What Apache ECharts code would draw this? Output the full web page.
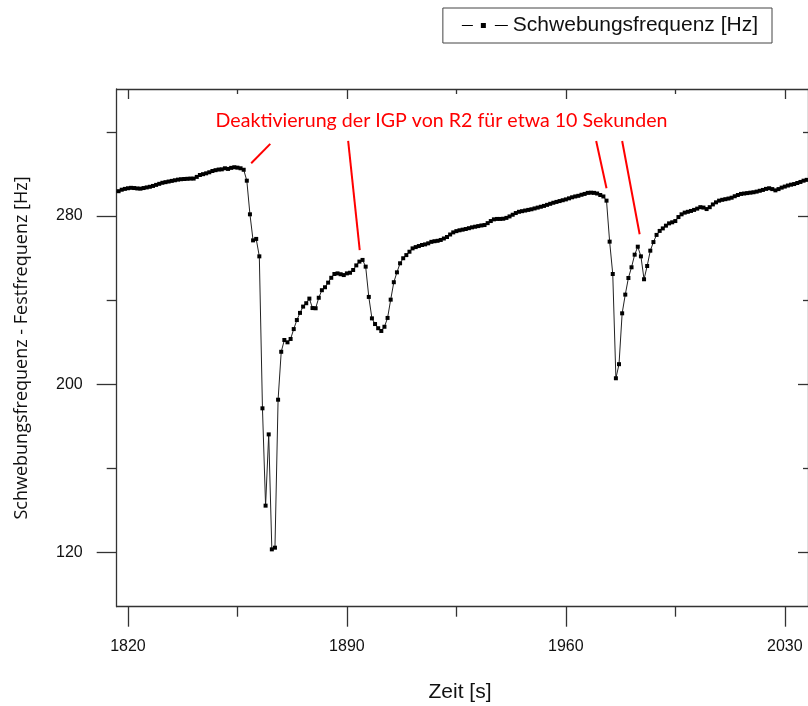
<!DOCTYPE html>
<html>
<head>
<meta charset="utf-8">
<script src="https://cdn.jsdelivr.net/npm/echarts@6/dist/echarts.min.js"></script>
<style>
html,body{margin:0;padding:0;background:#fff;}
#chart{width:808px;height:706px;}
</style>
</head>
<body>
<div id="chart"></div>
<script>
// ---- data (1 sample per second) ----
const startZeit = 1816;
const frequenz = [
 291.4,291.8,292.5,292.9,293.2,293.4,293.3,293.1,293.0,293.3,
 293.6,293.9,294.3,294.8,295.3,295.8,296.1,296.4,296.7,297.0,
 297.3,297.5,297.6,297.7,297.8,297.8,298.6,299.5,299.9,300.3,
 300.8,301.4,301.8,302.1,302.2,302.7,302.4,302.9,303.2,303.0,
 302.7,302.0,296.8,280.8,268.4,269.1,260.8,188.5,142.2,176.1,
 121.4,122.2,192.6,215.4,221.0,219.9,221.5,226.2,230.5,233.9,
 236.9,238.5,240.7,236.2,236.1,241.1,244.7,246.1,248.3,250.6,
 252.4,252.7,252.3,251.9,252.7,253.0,254.3,256.5,258.3,259.1,
 255.9,241.5,231.3,228.6,226.6,225.3,227.3,231.5,240.2,248.5,
 253.2,257.5,259.9,261.4,263.0,264.6,265.2,265.7,266.2,266.5,
 267.0,267.7,268.0,268.2,268.6,269.3,270.0,271.2,272.2,272.8,
 273.2,273.5,273.8,274.2,274.6,274.9,275.2,275.5,275.7,276.6,
 277.6,278.4,278.6,278.6,278.7,279.1,279.8,280.6,281.4,282.0,
 282.3,282.6,282.9,283.2,283.6,284.0,284.4,284.8,285.3,285.8,
 286.3,286.7,287.1,287.5,287.9,288.4,288.9,289.3,289.6,290.1,
 290.5,291.0,291.1,291.0,290.7,290.0,289.3,287.3,267.8,252.4,
 202.8,209.5,233.7,242.6,250.5,255.6,261.6,265.4,260.8,249.9,
 256.2,263.5,267.6,271.0,272.9,274.1,275.4,276.5,277.0,277.6,
 279.5,280.8,281.6,282.0,282.4,282.9,283.5,284.2,284.0,283.3,
 284.2,285.5,286.5,287.3,287.7,288.0,288.3,288.7,289.4,290.0,
 290.5,290.7,290.9,291.1,291.3,291.6,292.0,292.4,292.9,293.2,
 292.8,292.2,292.8,293.5,294.0,294.5,294.9,295.2,295.7,296.2,
 296.8,297.2,297.6
];
const zeit = frequenz.map((_, i) => startZeit + i);

const xMajor = [1820, 1890, 1960, 2030];
const xMinor = [1855, 1925, 1995];
const yMajor = [120, 200, 280];
const yMinor = [160, 240, 320];

const seriesName = 'Schwebungsfrequenz [Hz]';
const xTitle = 'Zeit [s]';
const yTitle = 'Schwebungsfrequenz - Festfrequenz [Hz]';
const annotationText = 'Deaktivierung der IGP von R2 für etwa 10 Sekunden';
// annotation pointer lines in data coordinates [x1, y1, x2, y2]
const hinweisLinien = [
  [1859.4, 305.1, 1865.5, 314.3],
  [1894.1, 263.8, 1890.4, 315.7],
  [1973.0, 293.2, 1969.7, 315.7],
  [1983.6, 271.3, 1978.0, 315.7]
];

// ---- chart ----
const X_MIN = 1816.4, X_MAX = 2037.42;
const Y_MIN = 94.12, Y_MAX = 340.42;
const AX = '#333';
const plain = v => String(v);

function xAx(pos, vals, len, inside, withLine, withLabel) {
  return {
    type: 'value', position: pos, min: X_MIN, max: X_MAX,
    axisLine: { show: withLine, onZero: false, lineStyle: { color: AX, width: 1.3 } },
    axisTick: { show: true, inside: inside, length: len, customValues: vals, lineStyle: { color: AX, width: 1.3 } },
    axisLabel: withLabel ? { show: true, customValues: vals, formatter: plain, margin: 32, color: '#111', fontSize: 16, fontFamily: 'Liberation Sans' } : { show: false },
    splitLine: { show: false }
  };
}
function yAx(pos, vals, len, inside, withLine, withLabel) {
  return {
    type: 'value', position: pos, min: Y_MIN, max: Y_MAX,
    axisLine: { show: withLine, onZero: false, lineStyle: { color: AX, width: 1.3 } },
    axisTick: { show: true, inside: inside, length: len, customValues: vals, lineStyle: { color: AX, width: 1.3 } },
    axisLabel: withLabel ? { show: true, customValues: vals, formatter: plain, margin: 34, color: '#111', fontSize: 16, fontFamily: 'Liberation Sans' } : { show: false },
    splitLine: { show: false }
  };
}

const chart = echarts.init(document.getElementById('chart'), null, { renderer: 'canvas' });
chart.setOption({
  animation: false,
  backgroundColor: '#fff',
  grid: { left: 116.7, top: 89, width: 694.3, height: 517.7 },
  legend: {
    right: 36, top: 8,
    padding: [7, 14, 7, 19],
    borderColor: '#444', borderWidth: 1,
    itemWidth: 46, itemHeight: 8,
    textStyle: { fontSize: 21, fontFamily: 'Liberation Sans', color: '#111' },
    data: [{ name: seriesName, icon: 'path://M0,3.5h11v1h-11z M19,1.5h5v5h-5z M33,3.5h13v1h-13z' }]
  },
  xAxis: [
    xAx('bottom', xMajor, 20, false, true, true),
    xAx('bottom', xMinor, 10, false, false, false),
    xAx('top', xMajor, 10, true, true, false),
    xAx('top', xMinor, 5, true, false, false)
  ],
  yAxis: [
    yAx('left', yMajor, 20, false, true, true),
    yAx('left', yMinor, 10, false, false, false),
    yAx('right', yMajor, 10, true, true, false),
    yAx('right', yMinor, 5, true, false, false)
  ],
  graphic: [
    { type: 'text', x: 441.5, y: 121, style: { text: annotationText, fill: '#ff0000', font: '19.6px Lato', textAlign: 'center', textVerticalAlign: 'middle' } },
    { type: 'text', x: 460, y: 692, style: { text: xTitle, fill: '#111', font: '21px "Liberation Sans"', textAlign: 'center', textVerticalAlign: 'middle' } },
    { type: 'text', x: 22, y: 348, rotation: Math.PI / 2, style: { text: yTitle, fill: '#111', font: '18px "Open Sans"', textAlign: 'center', textVerticalAlign: 'middle' } }
  ],
  series: [{
    name: seriesName,
    type: 'line',
    xAxisIndex: 0, yAxisIndex: 0,
    data: zeit.map((t, i) => [t, frequenz[i]]),
    symbol: 'rect', symbolSize: 4, showAllSymbol: true,
    clip: true,
    lineStyle: { color: '#222', width: 1 },
    itemStyle: { color: '#000' },
    markLine: {
      silent: true, symbol: ['none', 'none'], animation: false,
      label: { show: false },
      lineStyle: { color: '#ff0000', width: 2, type: 'solid' },
      emphasis: { disabled: true },
      data: hinweisLinien.map(l => [{ coord: [l[0], l[1]] }, { coord: [l[2], l[3]] }])
    }
  }]
});
</script>
</body>
</html>
